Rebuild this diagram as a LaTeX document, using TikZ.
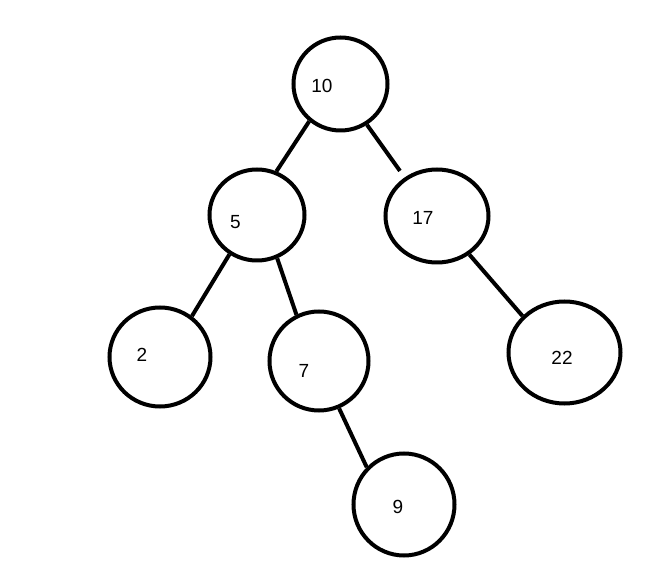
\documentclass[tikz,border=0pt]{standalone}
\usepackage{fontspec}
\setmainfont{Liberation Sans}
\usetikzlibrary{shapes.geometric}
\begin{document}
\begin{tikzpicture}[x=1pt, y=-1pt, line width=4pt,
  tnode/.style={draw, ellipse, inner sep=0pt},
  tval/.style={inner sep=0pt, font=\fontsize{19}{21}\selectfont}]
\useasboundingbox (0,0) rectangle (657,577);
\node[tnode,minimum width=94pt,minimum height=93pt] (n10) at (340.5,84) {};
\node[tnode,minimum width=95pt,minimum height=91pt] (n5) at (257,215) {};
\node[tnode,minimum width=103pt,minimum height=93pt] (n17) at (437,216) {};
\node[tnode,minimum width=101pt,minimum height=99pt] (n2) at (160,357) {};
\node[tnode,minimum width=99pt,minimum height=99pt] (n7) at (319,361) {};
\node[tnode,minimum width=112pt,minimum height=102pt] (n22) at (564.5,352.5) {};
\node[tnode,minimum width=101pt,minimum height=102pt] (n9) at (404,504.5) {};
\node[tval] (t10) at (322,86) {10};
\node[tval] (t5) at (235.5,222) {5};
\node[tval] (t17) at (423,218) {17};
\node[tval] (t2) at (142,355) {2};
\node[tval] (t7) at (304,370.5) {7};
\node[tval] (t22) at (562,358) {22};
\node[tval] (t9) at (398,507) {9};
\draw (n10.230) -- (n5.66);
\draw[shorten >=8pt] (n10.303) -- (n17.130);
\draw (n5.235) -- (n2.52);
\draw (n5.295) -- (n7.116);
\draw (n17.310) -- (n22.139);
\draw (n7.293) -- (n9.135);
\end{tikzpicture}
\end{document}
